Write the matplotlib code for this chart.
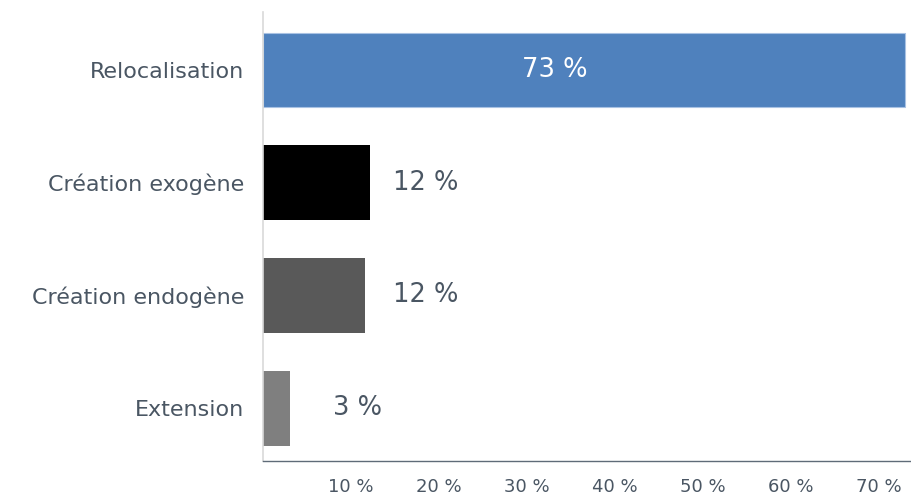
import matplotlib
matplotlib.use("Agg")
import matplotlib.pyplot as plt
import numpy as np

categories = ["Relocalisation", "Création exogène", "Création endogène", "Extension"]
values = [73.0, 12.2, 11.6, 3.1]
value_labels = ["73 %", "12 %", "12 %", "3 %"]
bar_colors = ["#4F81BD", "#000000", "#595959", "#7F7F7F"]
xticks = [10, 20, 30, 40, 50, 60, 70]
xtick_labels = ["10 %", "20 %", "30 %", "40 %", "50 %", "60 %", "70 %"]

TEXT = "#4a5663"
plt.rcParams["font.family"] = ["DejaVu Sans"]

fig = plt.figure(figsize=(9.12, 4.99), dpi=100)
ax = fig.add_axes([263 / 912, 38 / 499, 649 / 912, 449 / 499])

y = np.arange(len(categories))
bars = ax.barh(y, values, height=0.665, color=bar_colors)
bars[0].set_edgecolor("#a9c2e3")
bars[0].set_linewidth(0.8)

ax.set_ylim(3.47, -0.515)
ax.set_xlim(0, 73.8)
ax.set_yticks(y)
ax.set_yticklabels(categories, fontsize=16, color=TEXT)
ax.set_xticks(xticks)
ax.set_xticklabels(xtick_labels, fontsize=13, color=TEXT)
ax.tick_params(axis="both", length=0)
ax.tick_params(axis="y", pad=13.5)
ax.tick_params(axis="x", pad=12)

for s in ("top", "right"):
    ax.spines[s].set_visible(False)
ax.spines["left"].set_color("#d9d9d9")
ax.spines["left"].set_linewidth(1.2)
ax.spines["bottom"].set_color("#5f6b78")
ax.spines["bottom"].set_linewidth(1.0)

# value labels: first one inside the bar, others to the right
ax.text(values[0] * 0.455, 0, value_labels[0], ha="center", va="center",
        fontsize=18.5, color="white")
label_pad = [0, 16, 20, 31]
for i in range(1, len(values)):
    ax.annotate(value_labels[i], (values[i], i), xytext=(label_pad[i], 0),
                textcoords="offset points", ha="left", va="center",
                fontsize=18.5, color=TEXT)

fig.savefig("out.png", dpi=100)
